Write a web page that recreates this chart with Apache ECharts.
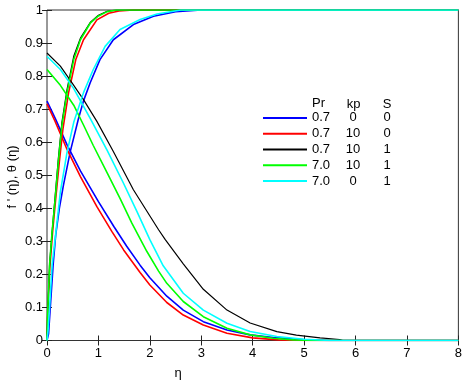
<!DOCTYPE html>
<html>
<head>
<meta charset="utf-8">
<script src="https://cdn.jsdelivr.net/npm/echarts@6/dist/echarts.min.js"></script>
<style>
html,body{margin:0;padding:0;background:#fff;}
#c{width:465px;height:383px;}
</style>
</head>
<body>
<div id="c"></div>
<script>
// ---- data ----
var xTicks = [0,1,2,3,4,5,6,7,8];
var yTicks = [0,0.1,0.2,0.3,0.4,0.5,0.6,0.7,0.8,0.9,1];
var legendHeader = ['Pr','kp','S'];
var caseNames = ['0.7|0|0','0.7|10|0','0.7|10|1','7.0|10|1','7.0|0|1'];
var caseColors = ['#0000ff','#ff0000','#000000','#00ff00','#00ffff'];

// f'(eta) curves (rising)
var riseBlue  = [[0,0],[0.03,0.02],[0.06,0.09],[0.12,0.23],[0.17,0.32],[0.24,0.40],[0.32,0.47],[0.45,0.57],[0.61,0.67],[0.71,0.725],[0.84,0.78],[1.03,0.85],[1.29,0.91],[1.68,0.956],[2.07,0.981],[2.5,0.995],[3.0,1],[8,1]];
var riseRed   = [[0,0],[0.015,0.08],[0.055,0.22],[0.11,0.33],[0.17,0.43],[0.24,0.54],[0.31,0.64],[0.42,0.75],[0.56,0.85],[0.71,0.91],[0.97,0.97],[1.2,0.99],[1.4,0.997],[1.68,1],[8,1]];
var riseBlack = [[0,0],[0.012,0.08],[0.05,0.23],[0.1,0.33],[0.16,0.44],[0.22,0.55],[0.29,0.66],[0.39,0.76],[0.52,0.86],[0.65,0.915],[0.84,0.962],[1.0,0.984],[1.17,0.996],[1.35,1],[8,1]];
var riseGreen = [[0,0],[0.012,0.08],[0.05,0.23],[0.1,0.33],[0.16,0.43],[0.22,0.54],[0.29,0.65],[0.39,0.75],[0.52,0.85],[0.65,0.91],[0.84,0.96],[1.0,0.982],[1.17,0.995],[1.35,1],[8,1]];
var riseCyan  = [[0,0],[0.02,0.03],[0.05,0.1],[0.1,0.23],[0.16,0.31],[0.26,0.45],[0.39,0.57],[0.52,0.66],[0.71,0.75],[0.9,0.82],[1.13,0.89],[1.42,0.941],[1.81,0.971],[2.14,0.988],[2.6,1],[8,1]];

// theta(eta) curves (falling)
var fallBlue  = [[0,0.724],[0.16,0.672],[0.39,0.592],[0.65,0.513],[1.0,0.42],[1.3,0.345],[1.55,0.285],[1.81,0.228],[2.0,0.19],[2.33,0.134],[2.65,0.092],[3.04,0.057],[3.5,0.032],[3.95,0.017],[4.4,0.009],[5.0,0.002],[5.5,0],[8,0]];
var fallRed   = [[0,0.716],[0.16,0.662],[0.39,0.578],[0.65,0.496],[0.97,0.405],[1.26,0.33],[1.49,0.274],[1.81,0.206],[2.0,0.168],[2.33,0.115],[2.65,0.077],[3.04,0.047],[3.5,0.022],[4.0,0.008],[4.5,0.002],[5,0],[8,0]];
var fallBlack = [[0,0.87],[0.26,0.83],[0.45,0.788],[0.71,0.729],[0.97,0.663],[1.29,0.572],[1.68,0.456],[2.17,0.335],[2.3,0.305],[2.65,0.232],[3.04,0.155],[3.5,0.092],[3.95,0.053],[4.47,0.027],[4.85,0.016],[5.31,0.008],[5.69,0.003],[5.75,0],[8,0]];
var fallGreen = [[0,0.82],[0.26,0.772],[0.52,0.712],[0.71,0.652],[0.9,0.59],[1.17,0.507],[1.42,0.43],[1.65,0.355],[1.94,0.27],[2.17,0.21],[2.33,0.173],[2.65,0.118],[3.04,0.072],[3.5,0.037],[3.95,0.017],[4.4,0.007],[4.8,0.002],[5.2,0],[8,0]];
var fallCyan  = [[0,0.86],[0.26,0.82],[0.52,0.762],[0.84,0.672],[1.17,0.575],[1.49,0.475],[1.75,0.39],[2.0,0.305],[2.26,0.226],[2.65,0.143],[3.04,0.092],[3.5,0.052],[3.95,0.027],[4.47,0.012],[5.0,0.004],[5.5,0],[8,0]];

var riseSets = [riseBlue, riseRed, riseBlack, riseGreen, riseCyan];
var fallSets = [fallBlue, fallRed, fallBlack, fallGreen, fallCyan];

var FONT = '"Liberation Sans", Arial, Helvetica, sans-serif';

var series = [];
for (var i = 0; i < caseNames.length; i++) {
  [riseSets[i], fallSets[i]].forEach(function (d) {
    series.push({
      name: caseNames[i],
      type: 'line',
      data: d,
      showSymbol: false,
      symbol: 'none',
      smooth: false,
      lineStyle: { color: caseColors[i], width: i === 2 ? 1.2 : 1.6 },
      itemStyle: { color: caseColors[i] },
      xAxisIndex: 0, yAxisIndex: 0
    });
  });
}

function tickAxis(pos, min, max, interval, showLabel, isY) {
  return {
    type: 'value', position: pos, min: min, max: max, interval: interval,
    axisLine: { show: false },
    axisTick: { show: true, inside: true, length: 5, lineStyle: { color: '#222', width: 1 } },
    axisLabel: { show: showLabel, color: '#000', fontSize: 13, fontFamily: FONT, margin: isY ? 4 : 6 },
    splitLine: { show: false }
  };
}

var chart = echarts.init(document.getElementById('c'), null, { renderer: 'canvas' });
chart.setOption({
  animation: false,
  backgroundColor: '#ffffff',
  grid: { left: 47, right: 6, top: 10, bottom: 42.5, show: true, borderColor: '#333', borderWidth: 1, backgroundColor: '#fff' },
  xAxis: [
    tickAxis('bottom', xTicks[0], xTicks[xTicks.length - 1], 1, true, false),
    tickAxis('top', xTicks[0], xTicks[xTicks.length - 1], 1, false, false)
  ],
  yAxis: [
    tickAxis('left', yTicks[0], yTicks[yTicks.length - 1], 0.1, true, true),
    tickAxis('right', yTicks[0], yTicks[yTicks.length - 1], 0.1, false, true)
  ],
  legend: {
    orient: 'vertical',
    left: 263, top: 110,
    itemWidth: 44, itemHeight: 2, itemGap: 0,
    icon: 'rect',
    padding: 0,
    data: caseNames,
    formatter: function (n) {
      var p = n.split('|');
      return '{a|' + p[0] + '}{b|' + p[1] + '}{c|' + p[2] + '}';
    },
    textStyle: {
      color: '#000', fontSize: 13, fontFamily: FONT, lineHeight: 15.8,
      rich: {
        a: { width: 30, align: 'left', fontSize: 13, fontFamily: FONT, color: '#000' },
        b: { width: 22, align: 'center', fontSize: 13, fontFamily: FONT, color: '#000' },
        c: { width: 46, align: 'center', fontSize: 13, fontFamily: FONT, color: '#000' }
      }
    }
  },
  graphic: [
    { type: 'text', left: 312, top: 97, style: { text: legendHeader[0], fontSize: 13, fontFamily: FONT, fill: '#000' } },
    { type: 'text', x: 353.5, y: 104, style: { text: legendHeader[1], fontSize: 13, fontFamily: FONT, fill: '#000', align: 'center', verticalAlign: 'middle' } },
    { type: 'text', x: 387, y: 104, style: { text: legendHeader[2], fontSize: 13, fontFamily: FONT, fill: '#000', align: 'center', verticalAlign: 'middle' } },
    { type: 'text', x: 178, y: 373, style: { text: 'η', fontSize: 13, fontFamily: FONT, fill: '#000', align: 'center', verticalAlign: 'middle' } },
    { type: 'text', x: 12, y: 177, rotation: Math.PI / 2, style: { text: "f ' (η), θ (η)", fontSize: 13, fontFamily: FONT, fill: '#000', align: 'center', verticalAlign: 'middle' } }
  ],
  series: series
});
</script>
</body>
</html>
